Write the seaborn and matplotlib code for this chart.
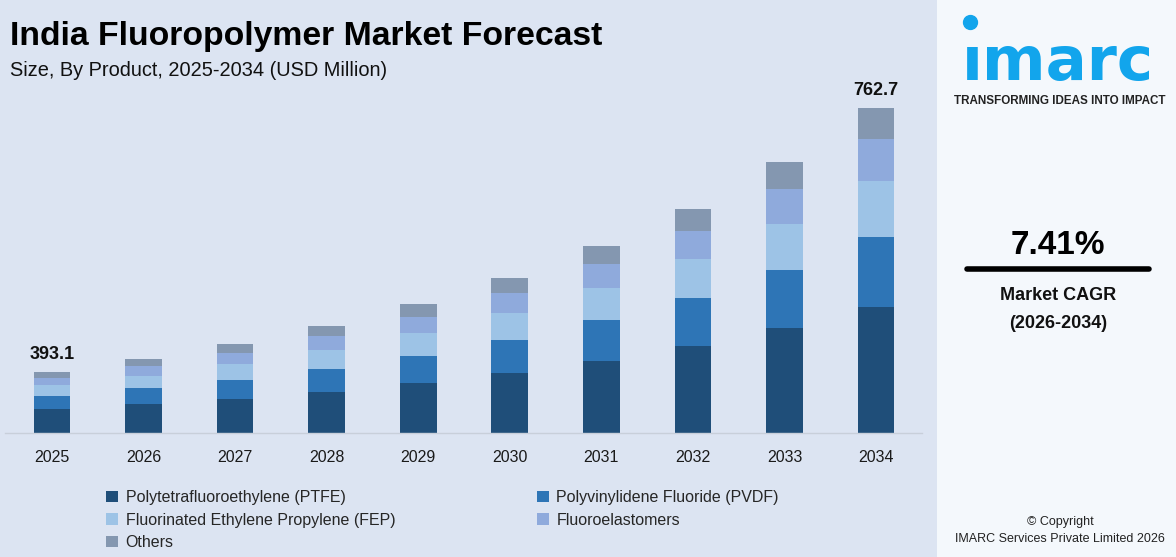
import matplotlib
matplotlib.use('Agg')
import matplotlib.pyplot as plt
from matplotlib.patches import Patch, Rectangle
from matplotlib.lines import Line2D
import seaborn as sns
import pandas as pd

# Данные (высоты сегментов, относительные единицы)
years = ['2025', '2026', '2027', '2028', '2029', '2030', '2031', '2032', '2033', '2034']
ptfe = [24, 29, 34, 41, 50, 60, 72, 87, 105, 126]
pvdf = [13, 16, 19, 23, 27, 33, 41, 48, 58, 70]
fep = [11, 12, 16, 19, 23, 27, 32, 39, 46, 56]
fluoroelastomers = [7, 10, 11, 14, 16, 20, 24, 28, 35, 42]
others = [6, 7, 9, 10, 13, 15, 18, 22, 27, 31]
segment_names = ['Polytetrafluoroethylene (PTFE)', 'Polyvinylidene Fluoride (PVDF)',
                 'Fluorinated Ethylene Propylene (FEP)', 'Fluoroelastomers', 'Others']
segment_colors = ['#1F4E79', '#2E75B6', '#9DC3E6', '#8FAADC', '#8497B0']
total_labels = {'2025': '393.1', '2034': '762.7'}

sns.set_theme(style='white')
plt.rcParams['font.family'] = ['Liberation Sans', 'DejaVu Sans']

bg = '#DCE4F2'
fig = plt.figure(figsize=(11.76, 5.57), dpi=100)
fig.patch.set_facecolor(bg)

# правая панель
fig.patches.append(Rectangle((937 / 1176, 0), 1 - 937 / 1176, 1, transform=fig.transFigure,
                             facecolor='#F4F8FC', edgecolor='none', zorder=0))

ax = fig.add_axes([5 / 1176, (557 - 433) / 557, (922 - 5) / 1176, 343 / 557])
ax.set_facecolor(bg)

df = pd.DataFrame({'year': years, 'ptfe': ptfe, 'pvdf': pvdf, 'fep': fep,
                   'fluoro': fluoroelastomers, 'others': others})
cols = ['ptfe', 'pvdf', 'fep', 'fluoro', 'others']
cum = df[cols].cumsum(axis=1)

# рисуем накопленные суммы сверху вниз
for col, color in reversed(list(zip(cols, segment_colors))):
    sns.barplot(x=df['year'], y=cum[col], color=color, width=0.4, saturation=1,
                ax=ax, edgecolor='none', linewidth=0)

ax.set_xlim(-0.513, 9.502)
ax.set_ylim(0, 343)
ax.set_xlabel('')
ax.set_ylabel('')
ax.set_yticks([])
for s in ['top', 'right', 'left']:
    ax.spines[s].set_visible(False)
ax.spines['bottom'].set_color('#C8CFDA')
ax.spines['bottom'].set_linewidth(1)
ax.tick_params(axis='x', length=0, pad=12, labelsize=11.5, colors='#1a1a1a')

totals = cum['others']
for i, y in enumerate(years):
    if y in total_labels:
        ax.text(i, totals[i] + 9, total_labels[y], ha='center', va='bottom',
                fontsize=13, fontweight='bold', color='#111111')

# заголовок
fig.text(10 / 1176, 1 - 37 / 557, 'India Fluoropolymer Market Forecast', fontsize=24.3,
         fontweight='bold', va='center', ha='left', color='#000000')
fig.text(10 / 1176, 1 - 71 / 557, 'Size, By Product, 2025-2034 (USD Million)', fontsize=14.4,
         va='center', ha='left', color='#111111')

# легенда (порядок по строкам)
order = [0, 2, 4, 1, 3]
handles = [Patch(facecolor=segment_colors[i], edgecolor='none') for i in order]
labels = [segment_names[i] for i in order]
fig.legend(handles, labels, loc='upper left', bbox_to_anchor=(100 / 1176, 1 - 484 / 557),
           ncol=2, frameon=False, fontsize=11.5, handlelength=0.7, handleheight=0.7,
           handletextpad=0.5, columnspacing=8.9, labelspacing=0.45, borderaxespad=0)

# блок IMARC
fig.text(1058 / 1176, 1 - 80 / 557, 'ımarc', fontsize=44, fontweight='bold', color='#12A5EC',
         ha='center', va='baseline', family=['DejaVu Sans'])
fig.add_artist(Line2D([970 / 1176], [1 - 22 / 557], marker='o', markersize=10,
                      color='#12A5EC', transform=fig.transFigure))
fig.text(1060 / 1176, 1 - 101 / 557, 'TRANSFORMING IDEAS INTO IMPACT', fontsize=8.4,
         fontweight='bold', color='#222222', ha='center', va='center')
fig.text(1058 / 1176, 1 - 245 / 557, '7.41%', fontsize=24, fontweight='bold',
         ha='center', va='center', color='#000000')
fig.add_artist(Line2D([967 / 1176, 1149 / 1176], [1 - 269 / 557] * 2,
                      transform=fig.transFigure, color='#000000', linewidth=4))
fig.text(1058 / 1176, 1 - 296 / 557, 'Market CAGR', fontsize=13, fontweight='bold',
         ha='center', va='center', color='#111111')
fig.text(1058 / 1176, 1 - 323 / 557, '(2026-2034)', fontsize=13, fontweight='bold',
         ha='center', va='center', color='#111111')
fig.text(1060 / 1176, 1 - 522 / 557, '© Copyright', fontsize=9, ha='center', va='center',
         color='#222222')
fig.text(1060 / 1176, 1 - 539 / 557, 'IMARC Services Private Limited 2026', fontsize=9,
         ha='center', va='center', color='#222222')

fig.savefig('out.png', dpi=100, facecolor=fig.get_facecolor())
